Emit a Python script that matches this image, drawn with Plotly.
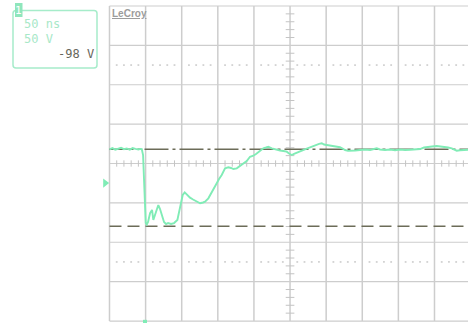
import plotly.graph_objects as go

# Scope settings: 50 ns/div horizontally, 50 V/div vertically (10 x 8 divisions)
TIME_PER_DIV = 50
VOLT_PER_DIV = 50
N_XDIV = 10
N_YDIV = 8

# Channel 1 trace (time in ns from screen centre, volts from screen centre)
trace_t = [-250, -246, -242, -238, -234, -230, -226, -222, -218, -214, -210, -207,
           -205.3, -203.5, -202.2, -200.8, -199.8, -198.4, -196.6, -193.8, -191.1,
           -189.3, -186.9, -184.2, -182.4, -180.0, -177.6, -174.5, -171.7, -168.9,
           -164.8, -160.6, -156.0, -154.4, -152.3, -148.6, -145.8, -142.6, -138.5,
           -134.3, -129.2, -124.6, -120.5, -117.7, -113.1, -108.4, -105.2, -101.5,
           -98.3, -94.6, -90.0, -85.4, -81.7, -78.5, -73.8, -70.6, -66.9, -63.7,
           -60.0, -55.4, -50.8, -47.1, -43.9, -40.2, -37.0, -33.2, -30.0, -25.3,
           -22.2, -18.4, -13.8, -9.3, -4.6, -1.4, 2.4, 5.5, 9.3, 13.8, 18.4, 23.1,
           27.7, 31.8, 37.0, 40.2, 43.9, 47.1, 50.8, 55.4, 60.0, 64.7, 69.2, 72.7,
           76.2, 80.3, 85.4, 90.0, 96.9, 103.8, 110.8, 114.9, 120.0, 124.6, 131.5,
           138.5, 145.4, 152.3, 159.2, 166.2, 173.1, 180.0, 185.5, 191.1, 196.6,
           203.1, 209.1, 214.6, 218.8, 223.9, 227.1, 230.8, 235.4, 240.9, 246.5, 250.6]
trace_v = [18.0, 19.5, 17.6, 18.9, 20.0, 18.2, 19.1, 17.4, 19.6, 18.5, 17.9, 18.6,
           18.4, 10.8, -21.0, -65.4, -75.6, -77.5, -74.3, -62.9, -59.0,
           -71.7, -64.1, -55.2, -52.7, -57.8, -65.4, -74.3, -76.8, -75.6,
           -76.8, -75.6, -71.7, -64.1, -54.9, -40.0, -36.6, -39.4, -43.4,
           -45.7, -48.5, -50.5, -49.5, -48.5, -44.2, -35.8, -29.8, -25.1,
           -19.7, -14.6, -6.1, -4.8, -5.7, -7.0, -6.1, -3.8, -1.9, 0.6,
           3.2, 8.6, 9.9, 12.1, 14.2, 17.1, 19.3, 20.3, 21.3, 19.3,
           18.4, 17.1, 16.5, 15.9, 15.0, 12.7, 10.8, 12.1, 13.7, 15.9, 17.1, 19.0,
           20.6, 22.2, 23.5, 25.0, 25.7, 24.1, 23.5, 22.9, 22.6, 21.6, 20.6, 19.0,
           17.1, 16.1, 15.9, 16.5, 17.1, 17.8, 17.1, 18.4, 19.3, 17.8, 17.1,
           17.8, 16.8, 17.8, 17.1, 17.5, 18.4, 18.4, 20.3, 21.3, 21.6,
           22.2, 21.6, 21.3, 20.3, 19.3, 17.8, 16.3, 16.8, 17.1, 17.1, 17.8]

# Cursor levels (V)
cursor_top = 18.0
cursor_bottom = -79.6

# Trigger level and trigger time markers
trigger_level = -24.8
trigger_time = -200.8

# Readout text
label_channel = "1"
label_timebase = "50 ns"
label_vdiv = "50 V"
label_offset = "-98 V"

# Visible window (screen is clipped on the right)
X_RANGE = [-401.6, 246.4]
Y_RANGE = [-202.5, 207.6]

W, H = 468, 323
t_half = TIME_PER_DIV * N_XDIV / 2
v_half = VOLT_PER_DIV * N_YDIV / 2

TRACE_COLOR = "#80ecb6"
GRID_COLOR = "#cdcdcd"
CURSOR_COLOR = "#6c6c58"

fig = go.Figure()


def seg_trace(xs, ys, color, width, name, dash=None):
    fig.add_trace(go.Scatter(x=xs, y=ys, mode="lines",
                             line=dict(color=color, width=width, dash=dash),
                             hoverinfo="skip", showlegend=False, name=name))


# Vertical grid lines
gx, gy = [], []
for i in range(N_XDIV + 1):
    t = -t_half + i * TIME_PER_DIV
    gx += [t, t, None]
    gy += [-v_half, v_half, None]
seg_trace(gx, gy, GRID_COLOR, 1.5, "vgrid")

# Horizontal grid lines
hx, hy = [], []
for j in range(N_YDIV + 1):
    v = -v_half + j * VOLT_PER_DIV
    hx += [-t_half, t_half + 10, None]
    hy += [v, v, None]
seg_trace(hx, hy, GRID_COLOR, 1.2, "hgrid")

# Minor ticks on the centre axes
tx, ty = [], []
for k in range(-int(t_half) + 10, int(t_half), 10):
    if k % TIME_PER_DIV:
        tx += [k, k, None]
        ty += [-4, 4, None]
for k in range(-int(v_half) + 10, int(v_half), 10):
    if k % VOLT_PER_DIV:
        tx += [-6, 6, None]
        ty += [k, k, None]
seg_trace(tx, ty, "#c4c4c4", 1, "ticks")

# Dotted lines at +/- 2.5 divisions
dx, dy = [], []
for lvl in (2.5 * VOLT_PER_DIV, -2.5 * VOLT_PER_DIV):
    for k in range(-int(t_half) + 10, int(t_half), 10):
        if k % TIME_PER_DIV:
            dx.append(k)
            dy.append(lvl)
fig.add_trace(go.Scatter(x=dx, y=dy, mode="markers",
                         marker=dict(symbol="square", size=1.8, color="#d2d2d2", line=dict(width=0)),
                         hoverinfo="skip", showlegend=False))

# Cursors
seg_trace([-t_half, t_half + 10], [cursor_top, cursor_top], CURSOR_COLOR, 1.5, "cursor1",
          dash="24px,4px,3px,4px")
seg_trace([-t_half, t_half + 10], [cursor_bottom, cursor_bottom], CURSOR_COLOR, 1.5, "cursor2",
          dash="12px,6px")

# Channel trace
seg_trace(trace_t, trace_v, TRACE_COLOR, 1.9, "C1")

# Trigger level arrow (left of screen) and trigger time marker (bottom)
fig.add_trace(go.Scatter(x=[-t_half - 6], y=[trigger_level], mode="markers",
                         marker=dict(symbol="triangle-right", size=8, color=TRACE_COLOR),
                         hoverinfo="skip", showlegend=False, cliponaxis=False))
fig.add_trace(go.Scatter(x=[trigger_time], y=[-v_half - 1], mode="markers",
                         marker=dict(symbol="square", size=4, color=TRACE_COLOR),
                         hoverinfo="skip", showlegend=False, cliponaxis=False))


def px(x):
    return x / W


def py(y):
    return 1 - y / H


# Channel readout box with rounded corners
x0, x1, y0, y1, r = 13, 97, 10.5, 68, 3
path = (f"M {px(x0 + r)},{py(y0)} L {px(x1 - r)},{py(y0)} Q {px(x1)},{py(y0)} {px(x1)},{py(y0 + r)} "
        f"L {px(x1)},{py(y1 - r)} Q {px(x1)},{py(y1)} {px(x1 - r)},{py(y1)} "
        f"L {px(x0 + r)},{py(y1)} Q {px(x0)},{py(y1)} {px(x0)},{py(y1 - r)} "
        f"L {px(x0)},{py(y0 + r)} Q {px(x0)},{py(y0)} {px(x0 + r)},{py(y0)} Z")
shapes = [
    dict(type="path", xref="paper", yref="paper", path=path,
         line=dict(color="#a6ecca", width=1.5), fillcolor="rgba(0,0,0,0)"),
    dict(type="rect", xref="paper", yref="paper", x0=px(15), x1=px(22.5), y0=py(17), y1=py(3),
         line=dict(width=0), fillcolor="#8fe6bc"),
]

mono = "DejaVu Sans Mono"
annotations = [
    dict(x=px(18.8), y=py(10), xref="paper", yref="paper", text=label_channel, showarrow=False,
         font=dict(family=mono, size=11, color="white"), xanchor="center", yanchor="middle"),
    dict(x=px(22), y=py(24.5), xref="paper", yref="paper", text=label_timebase, showarrow=False,
         font=dict(family=mono, size=12, color="#a8e8c8"), xanchor="left", yanchor="middle"),
    dict(x=px(22), y=py(39.5), xref="paper", yref="paper", text=label_vdiv, showarrow=False,
         font=dict(family=mono, size=12, color="#a8e8c8"), xanchor="left", yanchor="middle"),
    dict(x=px(96), y=py(54), xref="paper", yref="paper", text=label_offset, showarrow=False,
         font=dict(family=mono, size=12, color="#66665a"), xanchor="right", yanchor="middle"),
    dict(x=px(110), y=py(13.5), xref="paper", yref="paper", text="<u><b>LeCroy</b></u>", showarrow=False,
         font=dict(family="Liberation Sans Narrow, Liberation Sans", size=10, color="#9c9c9c"),
         xanchor="left", yanchor="middle"),
]

fig.update_layout(
    width=W, height=H,
    margin=dict(l=0, r=0, t=0, b=0),
    paper_bgcolor="white", plot_bgcolor="white",
    xaxis=dict(range=X_RANGE, visible=False, fixedrange=True),
    yaxis=dict(range=Y_RANGE, visible=False, fixedrange=True),
    shapes=shapes, annotations=annotations,
    showlegend=False,
)

fig.write_html("out.html")
